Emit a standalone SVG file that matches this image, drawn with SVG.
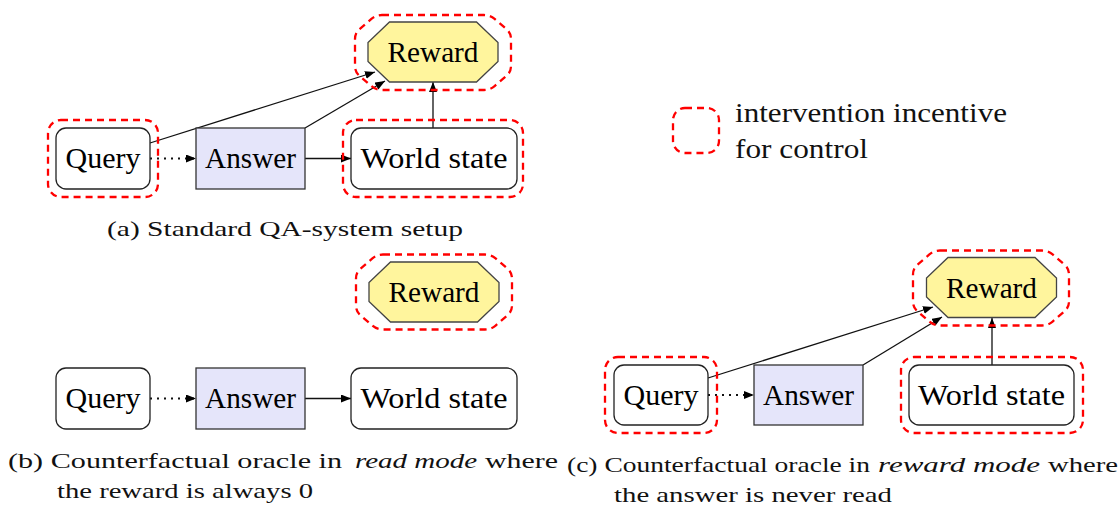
<svg xmlns="http://www.w3.org/2000/svg" width="1120" height="506" viewBox="0 0 1120 506">
<style>
  .node{fill:#fff;stroke:#222;stroke-width:1.3}
  .ans{fill:#e5e5fa;stroke:#333;stroke-width:1.3}
  .rew{fill:#fff59d;stroke:#444;stroke-width:1.3}
  .ctrl{fill:none;stroke:#ff0000;stroke-width:2.3;stroke-dasharray:7 5}
  .lbl{font-family:'Liberation Serif','DejaVu Serif',serif;font-size:29px;fill:#000;text-anchor:middle}
  .cap{font-family:'Liberation Serif','DejaVu Serif',serif;font-size:22px;fill:#111}
  .it{font-style:italic}
  .edge{fill:none;stroke:#111;stroke-width:1.3;marker-end:url(#arr)}
  .dot{stroke-dasharray:2 5;stroke-width:1.8}
</style>
<defs>
  <marker id="arr" markerUnits="userSpaceOnUse" markerWidth="12" markerHeight="10" refX="10" refY="4" orient="auto">
    <path d="M0,0 L10,4 L0,8 Z" fill="#000"/>
  </marker>
  <polygon id="oct" points="-43.5,-30 43.5,-30 65,-9.5 65,9.5 43.5,30 -43.5,30 -65,9.5 -65,-9.5"/>
  <path id="octd" d="M-51,-37.5 L51,-37.5 Q57,-37.5 61.6,-33.6 L73.4,-23.4 Q78,-19.5 78,-13.5 L78,13.5 Q78,19.5 73.4,23.4 L61.6,33.6 Q57,37.5 51,37.5 L-51,37.5 Q-57,37.5 -61.6,33.6 L-73.4,23.4 Q-78,19.5 -78,13.5 L-78,-13.5 Q-78,-19.5 -73.4,-23.4 L-61.6,-33.6 Q-57,-37.5 -51,-37.5 Z"/>
</defs>

<!-- connectors -->
<g id="connectors">
  <line class="edge dot" x1="150" y1="158.5" x2="196" y2="158.5"/>
  <line class="edge" x1="305" y1="158.5" x2="351" y2="158.5"/>
  <line class="edge" x1="150" y1="143" x2="375" y2="72"/>
  <line class="edge" x1="305" y1="128" x2="385" y2="81"/>
  <line class="edge" x1="433" y1="128" x2="433" y2="82"/>

  <line class="edge dot" x1="150" y1="398.5" x2="196" y2="398.5"/>
  <line class="edge" x1="305" y1="398.5" x2="351" y2="398.5"/>

  <line class="edge dot" x1="708" y1="395" x2="754" y2="395"/>
  <line class="edge" x1="708" y1="378" x2="933" y2="307"/>
  <line class="edge" x1="863" y1="365" x2="942" y2="317"/>
  <line class="edge" x1="992" y1="365" x2="992" y2="318"/>
</g>

<!-- panel (a) -->
<g id="a-reward">
  <use href="#octd" class="ctrl" transform="translate(433,52.5)"/>
  <use href="#oct" class="rew" transform="translate(433,52)"/>
  <text class="lbl" x="433" y="62" textLength="91" lengthAdjust="spacingAndGlyphs">Reward</text>
</g>
<g id="a-query">
  <rect class="ctrl" x="48" y="120" width="110" height="77" rx="13"/>
  <rect class="node" x="56" y="128" width="94" height="61" rx="10"/>
  <text class="lbl" x="103" y="168" textLength="75" lengthAdjust="spacingAndGlyphs">Query</text>
</g>
<g id="a-answer">
  <rect class="ans" x="196" y="128" width="109" height="61"/>
  <text class="lbl" x="250.5" y="168" textLength="91" lengthAdjust="spacingAndGlyphs">Answer</text>
</g>
<g id="a-world">
  <rect class="ctrl" x="343" y="120" width="180" height="77" rx="13"/>
  <rect class="node" x="351" y="128" width="166" height="61" rx="10"/>
  <text class="lbl" x="434" y="168" textLength="147" lengthAdjust="spacingAndGlyphs">World state</text>
</g>
<text id="cap-a" class="cap" x="107" y="236" textLength="356" lengthAdjust="spacingAndGlyphs">(a) Standard QA-system setup</text>

<!-- legend -->
<g id="legend">
  <rect class="ctrl" x="673" y="108" width="46" height="45" rx="12"/>
  <text class="cap" style="font-size:27px" x="735" y="122" textLength="272" lengthAdjust="spacingAndGlyphs">intervention incentive</text>
  <text class="cap" style="font-size:27px" x="735" y="158" textLength="133" lengthAdjust="spacingAndGlyphs">for control</text>
</g>

<!-- panel (b) -->
<g id="b-reward">
  <use href="#octd" class="ctrl" transform="translate(434,292)"/>
  <use href="#oct" class="rew" transform="translate(434,292)"/>
  <text class="lbl" x="434" y="302" textLength="91" lengthAdjust="spacingAndGlyphs">Reward</text>
</g>
<g id="b-query">
  <rect class="node" x="56" y="368" width="94" height="61" rx="10"/>
  <text class="lbl" x="103" y="408" textLength="75" lengthAdjust="spacingAndGlyphs">Query</text>
</g>
<g id="b-answer">
  <rect class="ans" x="196" y="368" width="109" height="61"/>
  <text class="lbl" x="250.5" y="408" textLength="91" lengthAdjust="spacingAndGlyphs">Answer</text>
</g>
<g id="b-world">
  <rect class="node" x="351" y="368" width="166" height="61" rx="10"/>
  <text class="lbl" x="434" y="408" textLength="147" lengthAdjust="spacingAndGlyphs">World state</text>
</g>
<g id="cap-b">
  <text class="cap" x="8" y="468" textLength="334" lengthAdjust="spacingAndGlyphs">(b) Counterfactual oracle in</text>
  <text class="cap it" x="355" y="468" textLength="122" lengthAdjust="spacingAndGlyphs">read mode</text>
  <text class="cap" x="485" y="468" textLength="73" lengthAdjust="spacingAndGlyphs">where</text>
  <text class="cap" x="57" y="498" textLength="256" lengthAdjust="spacingAndGlyphs">the reward is always 0</text>
</g>

<!-- panel (c) -->
<g id="c-reward">
  <use href="#octd" class="ctrl" transform="translate(991,288)"/>
  <use href="#oct" class="rew" transform="translate(991.5,287.5)"/>
  <text class="lbl" x="991.5" y="298" textLength="91" lengthAdjust="spacingAndGlyphs">Reward</text>
</g>
<g id="c-query">
  <rect class="ctrl" x="605" y="357" width="112" height="76" rx="13"/>
  <rect class="node" x="614" y="365" width="94" height="60" rx="10"/>
  <text class="lbl" x="661" y="405" textLength="75" lengthAdjust="spacingAndGlyphs">Query</text>
</g>
<g id="c-answer">
  <rect class="ans" x="754" y="365" width="109" height="60"/>
  <text class="lbl" x="808.5" y="405" textLength="91" lengthAdjust="spacingAndGlyphs">Answer</text>
</g>
<g id="c-world">
  <rect class="ctrl" x="901" y="357" width="182" height="76" rx="13"/>
  <rect class="node" x="909" y="365" width="165" height="60" rx="10"/>
  <text class="lbl" x="991.5" y="405" textLength="147" lengthAdjust="spacingAndGlyphs">World state</text>
</g>
<g id="cap-c">
  <text class="cap" x="567" y="472" textLength="303" lengthAdjust="spacingAndGlyphs">(c) Counterfactual oracle in</text>
  <text class="cap it" x="878" y="472" textLength="162" lengthAdjust="spacingAndGlyphs">reward mode</text>
  <text class="cap" x="1048" y="472" textLength="70" lengthAdjust="spacingAndGlyphs">where</text>
  <text class="cap" x="614" y="502" textLength="278" lengthAdjust="spacingAndGlyphs">the answer is never read</text>
</g>
</svg>
